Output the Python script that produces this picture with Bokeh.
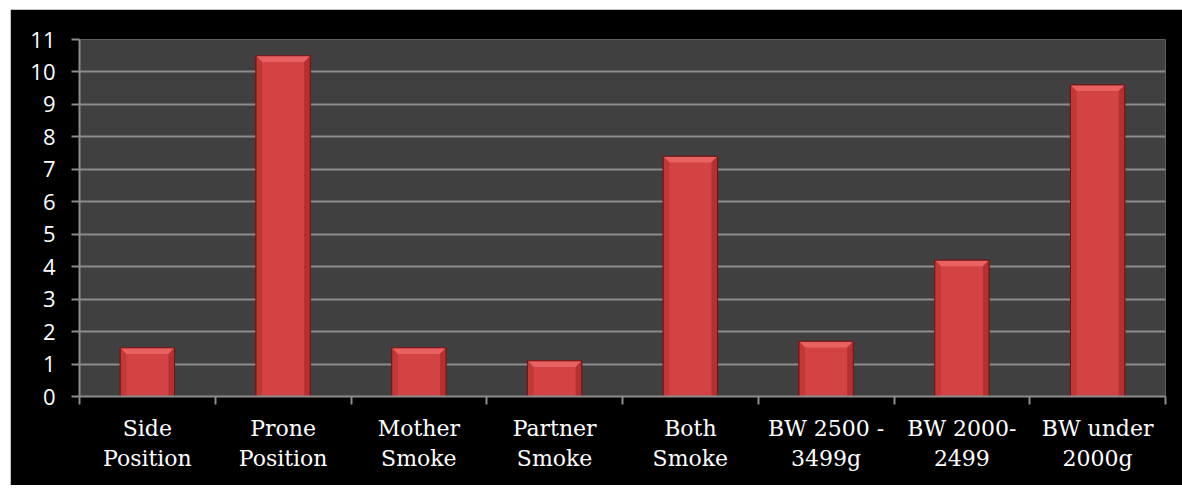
from bokeh.plotting import figure
from bokeh.models import FixedTicker, Range1d, ColumnDataSource
from bokeh.embed import file_html
from bokeh.resources import INLINE

categories = ["Side\nPosition", "Prone\nPosition", "Mother\nSmoke", "Partner\nSmoke",
              "Both\nSmoke", "BW 2500 -\n3499g", "BW 2000-\n2499", "BW under\n2000g"]
values = [1.5, 10.5, 1.5, 1.1, 7.4, 1.7, 4.2, 9.6]
y_ticks = list(range(0, 12))

n = len(categories)
centers = [i + 0.5 for i in range(n)]
bw = 0.4
dx = 0.045   # bevel width (x units)
dy = 0.19    # bevel height (y units)

p = figure(width=1172, height=476, output_backend="svg", toolbar_location=None,
           x_range=Range1d(0, n), y_range=Range1d(0, 11),
           min_border_left=69, min_border_right=17, min_border_top=30, min_border_bottom=89,
           margin=(9, 0, 0, 10))
p.border_fill_color = "black"
p.background_fill_color = "#404040"
p.outline_line_color = None

# bars
src = ColumnDataSource(dict(x=centers, top=values))
p.vbar(x="x", top="top", bottom=0, width=bw, source=src,
       fill_color="#d44343", line_color="#7a1a1a", line_width=1)

# bevel facets derived from the data
L = [c - bw / 2 for c in centers]
R = [c + bw / 2 for c in centers]
top_xs = [[l, r, r - dx, l + dx] for l, r in zip(L, R)]
top_ys = [[v, v, v - dy, v - dy] for v in values]
p.patches(top_xs, top_ys, fill_color="#e96262", line_color=None)
left_xs = [[l, l + dx, l + dx, l] for l in L]
left_ys = [[v, v - dy, 0, 0] for v in values]
p.patches(left_xs, left_ys, fill_color="#c23737", line_color=None)
right_xs = [[r, r - dx, r - dx, r] for r in R]
p.patches(right_xs, left_ys, fill_color="#b53030", line_color=None)
p.vbar(x="x", top="top", bottom=0, width=bw, source=src,
       fill_color=None, line_color="#6e1515", line_width=1)

# axes
p.yaxis.ticker = FixedTicker(ticks=y_ticks)
p.yaxis.major_label_text_font = "Open Sans"
p.yaxis.major_label_text_font_size = "22px"
p.yaxis.major_label_text_color = "white"
p.yaxis.major_label_standoff = 16
p.yaxis.major_tick_out = 8
p.yaxis.major_tick_in = 0
p.yaxis.minor_tick_line_color = None
p.yaxis.axis_line_color = "#8c8c8c"
p.yaxis.major_tick_line_color = "#8c8c8c"
p.yaxis.axis_line_width = 2
p.yaxis.major_tick_line_width = 2

p.xaxis.ticker = FixedTicker(ticks=centers, minor_ticks=list(range(0, n + 1)))
p.xaxis.major_label_overrides = {c: lab for c, lab in zip(centers, categories)}
p.xaxis.major_label_text_font = "DejaVu Serif"
p.xaxis.major_label_text_font_size = "22px"
p.xaxis.major_label_text_color = "white"
p.xaxis.major_label_standoff = 11
p.xaxis.major_tick_line_color = None
p.xaxis.minor_tick_out = 8
p.xaxis.minor_tick_in = 0
p.xaxis.minor_tick_line_color = "#8c8c8c"
p.xaxis.minor_tick_line_width = 2
p.xaxis.axis_line_color = "#8c8c8c"
p.xaxis.axis_line_width = 2

p.xgrid.grid_line_color = None
p.ygrid.ticker = FixedTicker(ticks=y_ticks)
p.ygrid.grid_line_color = "#8c8c8c"
p.ygrid.grid_line_width = 2
p.ygrid.level = "underlay"

open("out.html", "w").write(file_html(p, INLINE))
